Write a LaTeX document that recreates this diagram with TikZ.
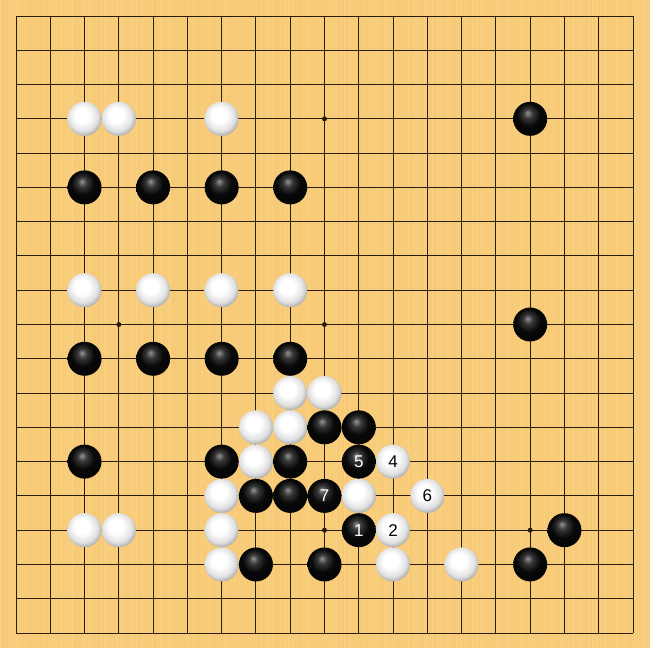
\documentclass[tikz,border=0pt]{standalone}
\usepackage{fontspec}
\setsansfont{Liberation Sans}
\definecolor{board}{RGB}{247,201,116}
\definecolor{grain}{RGB}{252,218,146}
\definecolor{gridc}{RGB}{40,28,10}
\pgfdeclareradialshading{bst}{\pgfqpoint{-4bp}{9bp}}{color(0bp)=(black!42); color(7bp)=(black!78); color(17bp)=(black!97); color(50bp)=(black)}
\pgfdeclareradialshading{wst}{\pgfqpoint{-5bp}{7bp}}{color(0bp)=(white); color(11bp)=(white); color(22bp)=(black!12); color(30bp)=(black!38); color(50bp)=(black!45)}
\tikzset{
  stone/.style={circle, minimum size=34pt, inner sep=0pt, font=\sffamily\fontsize{17}{17}\selectfont},
  bstone/.style={stone, shading=bst, text=white},
  wstone/.style={stone, shading=wst, text=black},
  gridline/.style={draw=gridc, line width=1pt},
  hoshi/.style={circle, fill=gridc, inner sep=0pt, minimum size=5pt}
}
\begin{document}
\begin{tikzpicture}[x=1pt,y=-1pt]
\useasboundingbox (0,0) rectangle (650,648);
\fill[board] (0,0) rectangle (650,648);
\pgfmathsetseed{7}
\foreach \i in {0,...,324}{
  \pgfmathsetmacro{\op}{0.15+0.5*rnd}
  \draw[grain, line width=0.9pt, opacity=\op] (2*\i,0) -- (2*\i,648);
}
\begin{scope}[shift={(16,16)}, x=34.278pt, y=-34.278pt]
\foreach \k in {0,...,18}{
  \draw[gridline] (\k,0) -- (\k,18);
  \draw[gridline] (0,\k) -- (18,\k);
}
\foreach \c/\r in {3/3,9/3,15/3,3/9,9/9,15/9,3/15,9/15,15/15}{
  \node[hoshi] (h\c-\r) at (\c,\r) {};
}
% white stones (col,row) 1-based
\foreach \c/\r in {3/4,4/4,7/4, 3/9,5/9,7/9,9/9, 9/12,10/12, 8/13,9/13, 8/14, 7/15,11/15, 3/16,4/16,7/16, 7/17,12/17,14/17}{
  \node[wstone] (w\c-\r) at (\c-1,\r-1) {};
}
\foreach \c/\r in {16/4, 3/6,5/6,7/6,9/6, 16/10, 3/11,5/11,7/11,9/11, 10/13,11/13, 3/14,7/14,9/14, 8/15,9/15, 17/16, 8/17,10/17,16/17}{
  \node[bstone] (b\c-\r) at (\c-1,\r-1) {};
}
\node[bstone] (m1) at (10,15) {1};
\node[wstone] (m2) at (11,15) {2};
\node[wstone] (m4) at (11,13) {4};
\node[bstone] (m5) at (10,13) {5};
\node[wstone] (m6) at (12,14) {6};
\node[bstone] (m7) at (9,14) {7};
\end{scope}
\end{tikzpicture}
\end{document}
